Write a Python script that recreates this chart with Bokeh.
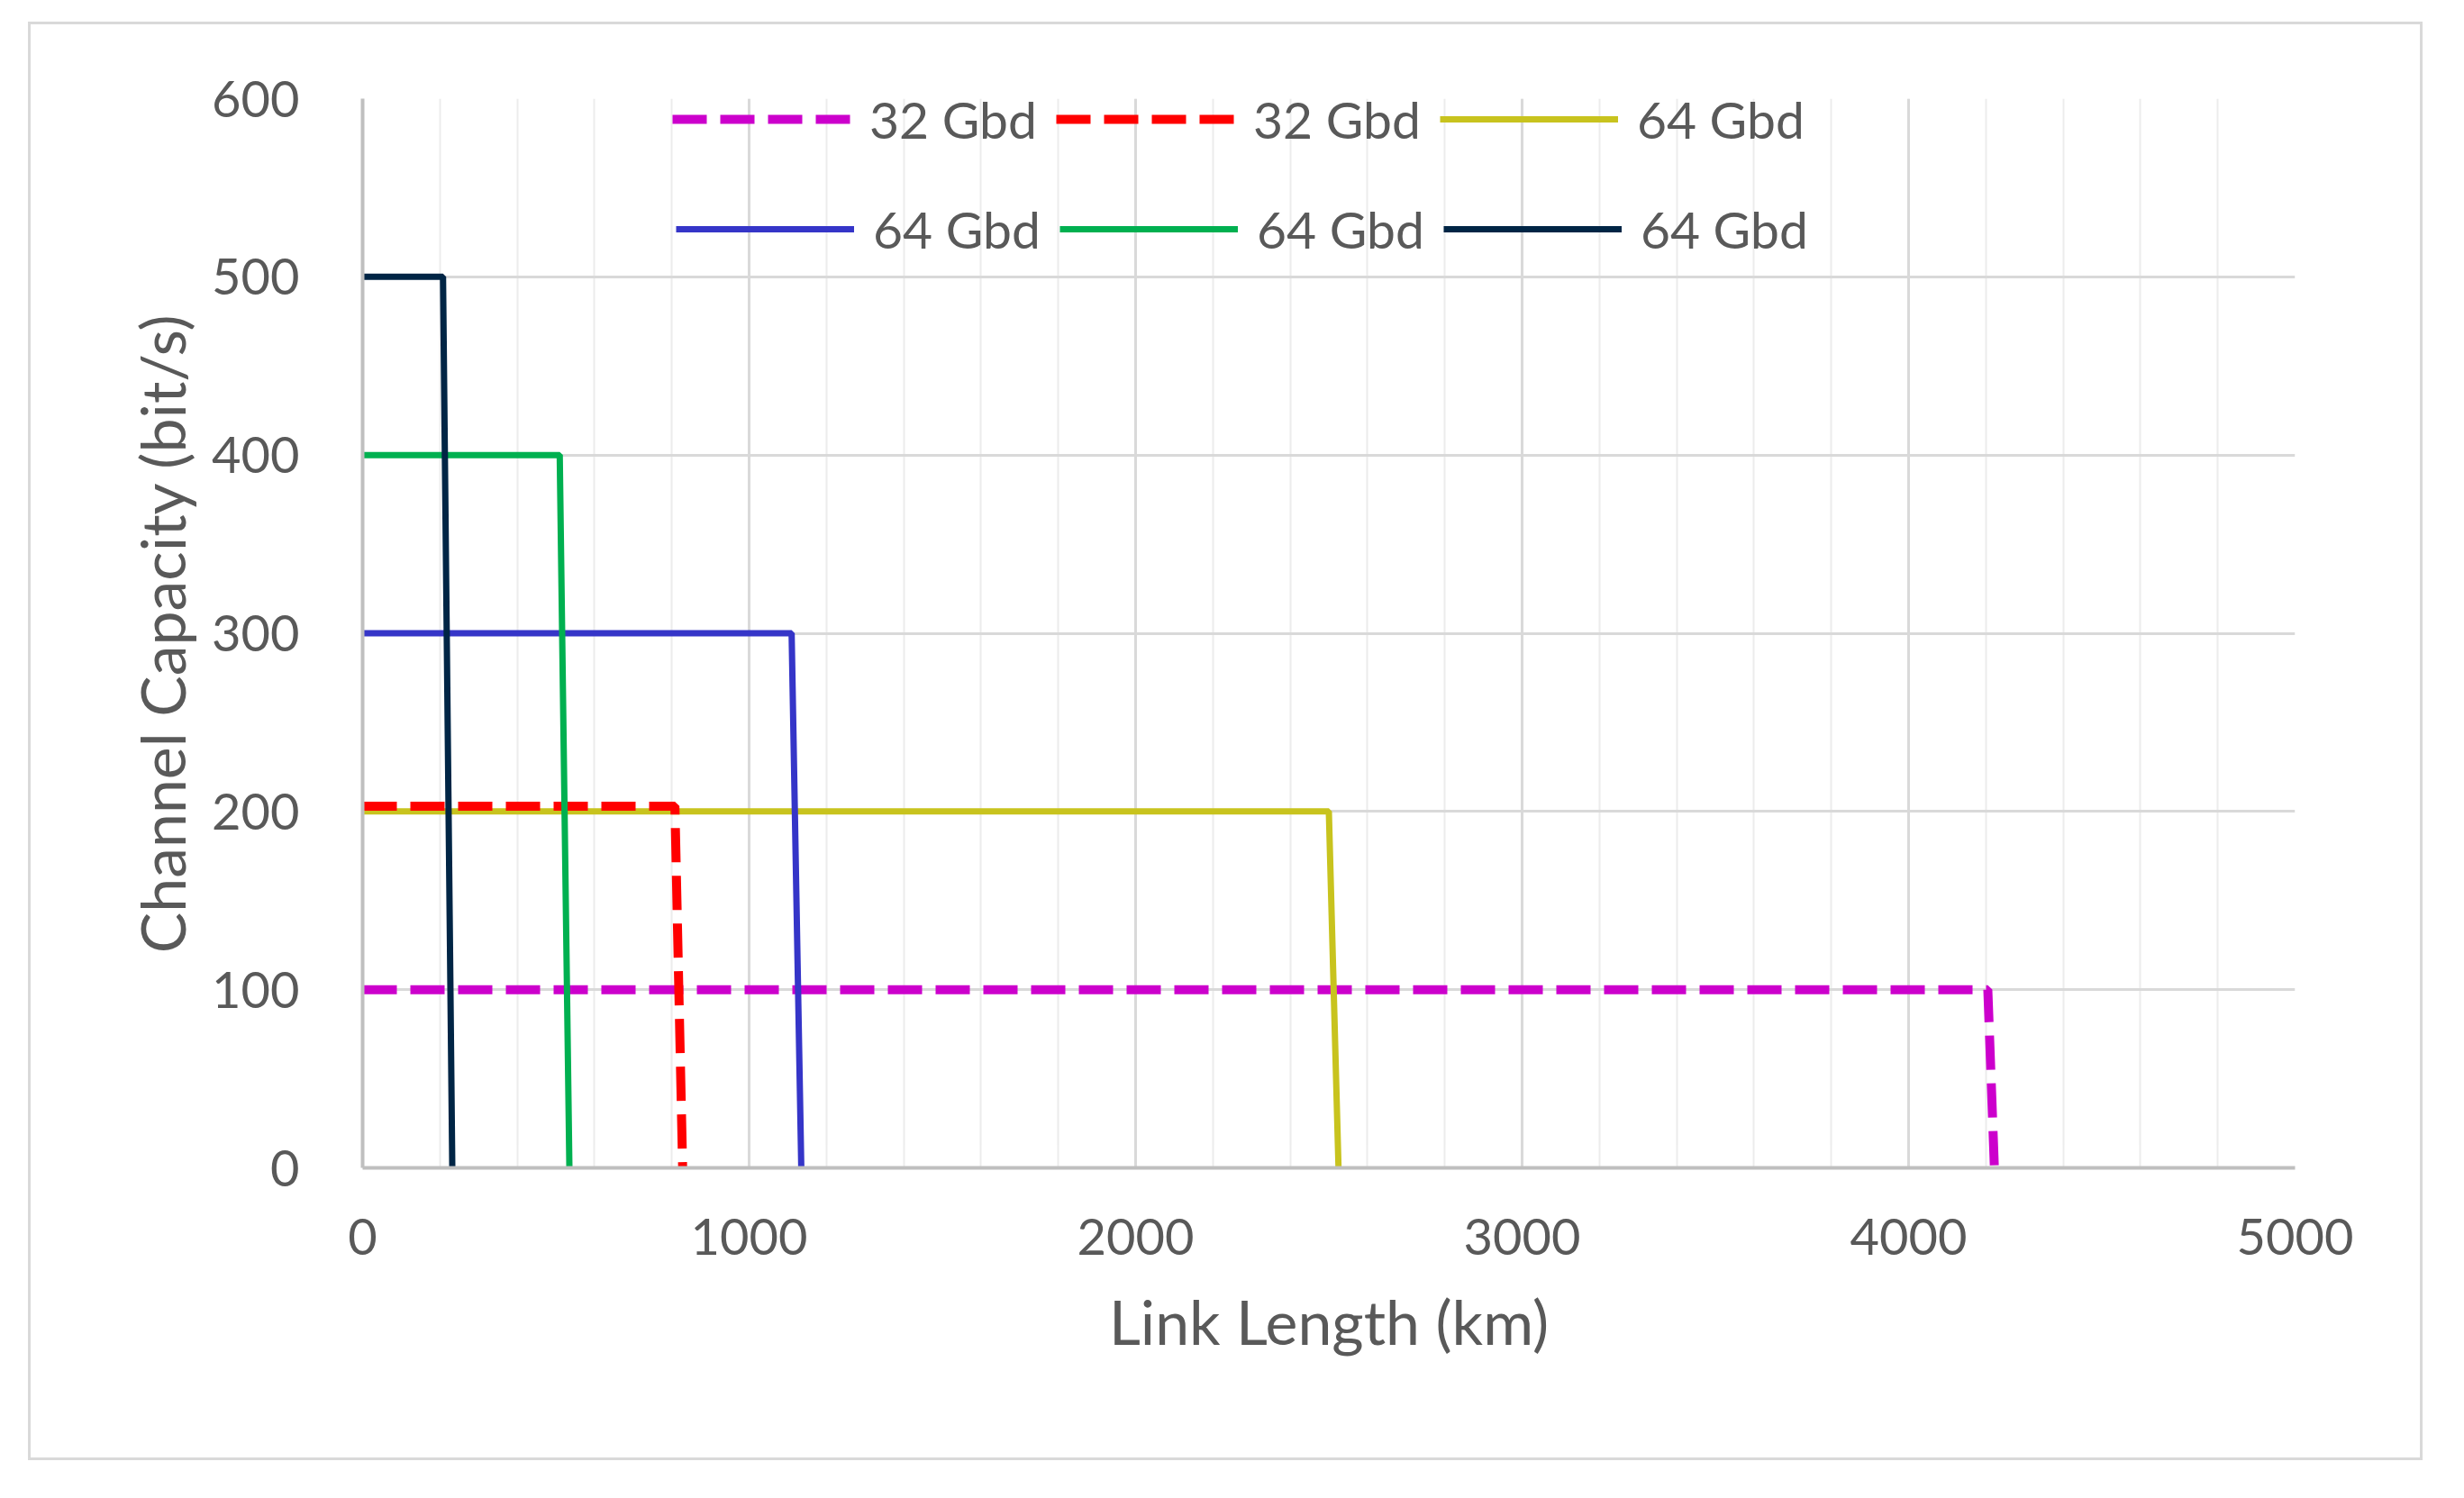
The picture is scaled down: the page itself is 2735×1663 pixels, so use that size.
from bokeh.plotting import figure
from bokeh.models import Range1d, SingleIntervalTicker, Legend, LegendItem
from bokeh.embed import file_html
from bokeh.resources import INLINE

# ---- data ----
labels = ["32 Gbd", "32 Gbd", "64 Gbd", "64 Gbd", "64 Gbd", "64 Gbd"]
mag_x = [0, 4205, 4222]
mag_y = [100, 100, 0]
red_x = [0, 808, 828]
red_y = [203, 203, 0]
yel_x = [0, 2500, 2525]
yel_y = [200, 200, 0]
blu_x = [0, 1110, 1135]
blu_y = [300, 300, 0]
grn_x = [0, 510, 535]
grn_y = [400, 400, 0]
nav_x = [0, 208, 232]
nav_y = [500, 500, 0]

FONT = "Lato"
TXT = "#595959"

p = figure(width=2658, height=1597, output_backend="svg", toolbar_location=None,
           x_range=Range1d(0, 5000), y_range=Range1d(0, 600),
           min_border_left=368, min_border_right=145, min_border_top=82, min_border_bottom=328)
p.styles = {"border": "3px solid #d9d9d9", "margin-left": "31px", "margin-top": "24px"}
p.outline_line_color = None
p.background_fill_color = "white"

p.xaxis.ticker = SingleIntervalTicker(interval=1000, num_minor_ticks=5)
p.yaxis.ticker = SingleIntervalTicker(interval=100, num_minor_ticks=0)

for ax in (p.xaxis[0], p.yaxis[0]):
    ax.axis_line_color = "#bfbfbf"
    ax.axis_line_width = 4
    ax.major_tick_line_color = None
    ax.minor_tick_line_color = None
    ax.major_label_text_font = FONT
    ax.major_label_text_font_size = "56px"
    ax.major_label_text_color = TXT
    ax.axis_label_text_font = FONT
    ax.axis_label_text_font_size = "68px"
    ax.axis_label_text_font_style = "normal"
    ax.axis_label_text_color = TXT

p.xaxis.axis_label = "Link Length (km)"
p.yaxis.axis_label = "Channel Capacity (bit/s)"
p.xaxis.major_label_standoff = 50
p.yaxis.major_label_standoff = 64
p.xaxis.axis_label_standoff = 30
p.yaxis.axis_label_standoff = 12

p.xgrid.grid_line_color = "#d9d9d9"
p.xgrid.grid_line_width = 3
p.xgrid.minor_grid_line_color = "#ececec"
p.xgrid.minor_grid_line_width = 2
p.ygrid.grid_line_color = "#d9d9d9"
p.ygrid.grid_line_width = 3

DASH = "38 15"
r_mag = p.line(mag_x, mag_y, line_color="#cc00cc", line_width=10, line_dash=DASH)
r_yel = p.line(yel_x, yel_y, line_color="#c8c31e", line_width=7)
r_red = p.line(red_x, red_y, line_color="#ff0000", line_width=10, line_dash=DASH)
r_blu = p.line(blu_x, blu_y, line_color="#3535c8", line_width=7)
r_grn = p.line(grn_x, grn_y, line_color="#00b050", line_width=7)
r_nav = p.line(nav_x, nav_y, line_color="#002545", line_width=7)

def make_legend(items, loc):
    lg = Legend(items=items, location=loc, orientation="horizontal",
                glyph_width=198, glyph_height=40, label_standoff=21, spacing=21,
                padding=0, margin=0, background_fill_alpha=0, border_line_alpha=0,
                label_text_font=FONT, label_text_font_size="57px", label_text_color=TXT)
    return lg

leg1 = make_legend([LegendItem(label=labels[0], renderers=[r_mag]),
                    LegendItem(label=labels[1], renderers=[r_red]),
                    LegendItem(label=labels[2], renderers=[r_yel])], (344, 1130))
leg2 = make_legend([LegendItem(label=labels[3], renderers=[r_blu]),
                    LegendItem(label=labels[4], renderers=[r_grn]),
                    LegendItem(label=labels[5], renderers=[r_nav])], (348, 1008))
p.add_layout(leg1, "center")
p.add_layout(leg2, "center")

open("out.html", "w").write(file_html(p, INLINE))
